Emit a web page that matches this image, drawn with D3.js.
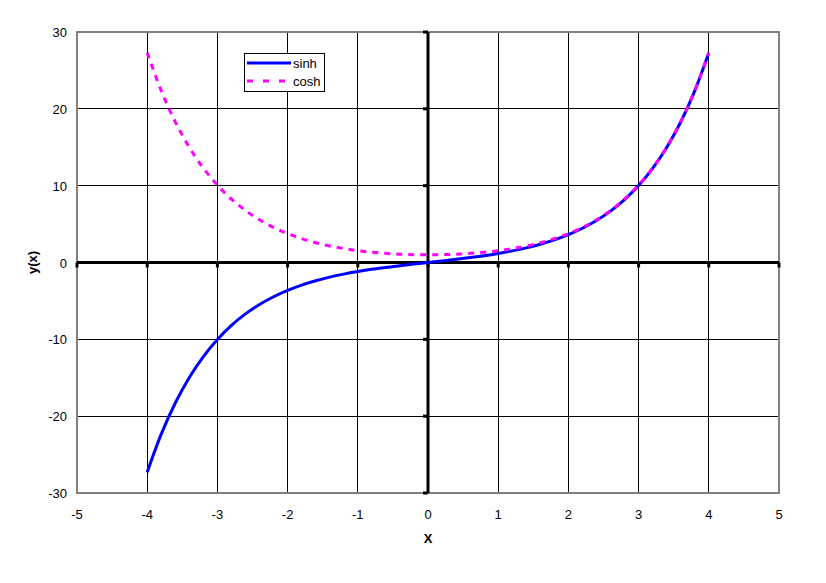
<!DOCTYPE html>
<html lang="en">
<head>
    <meta charset="UTF-8">
    <title>sinh / cosh</title>
    <script src="https://d3js.org/d3.v7.min.js"></script>
</head>
<style type="text/css">
    body { margin: 0; background: white; }
    text { font-family: "Liberation Sans", Arial, sans-serif; fill: black; }
</style>
<body>
<div id="chart"></div>

<script>
    // values (x step 0.2)
    var xs = [-4, -3.8, -3.6, -3.4, -3.2, -3, -2.8, -2.6, -2.4, -2.2, -2, -1.8, -1.6, -1.4, -1.2, -1, -0.8, -0.6, -0.4, -0.2,
        0, 0.2, 0.4, 0.6, 0.8, 1, 1.2, 1.4, 1.6, 1.8, 2, 2.2, 2.4, 2.6, 2.8, 3, 3.2, 3.4, 3.6, 3.8, 4];
    var sinhVals = [-27.29, -22.34, -18.29, -14.97, -12.25, -10.02, -8.19, -6.69, -5.47, -4.46, -3.63, -2.94, -2.38, -1.90, -1.51, -1.18, -0.89, -0.64, -0.41, -0.20,
        0, 0.20, 0.41, 0.64, 0.89, 1.18, 1.51, 1.90, 2.38, 2.94, 3.63, 4.46, 5.47, 6.69, 8.19, 10.02, 12.25, 14.97, 18.29, 22.34, 27.29];
    var coshVals = [27.31, 22.36, 18.31, 15.00, 12.29, 10.07, 8.25, 6.77, 5.56, 4.57, 3.76, 3.11, 2.58, 2.15, 1.81, 1.54, 1.34, 1.19, 1.08, 1.02,
        1.00, 1.02, 1.08, 1.19, 1.34, 1.54, 1.81, 2.15, 2.58, 3.11, 3.76, 4.57, 5.56, 6.77, 8.25, 10.07, 12.29, 15.00, 18.31, 22.36, 27.31];
    var xTicks = [-5, -4, -3, -2, -1, 0, 1, 2, 3, 4, 5];
    var yTicks = [-30, -20, -10, 0, 10, 20, 30];
    var seriesNames = ["sinh", "cosh"];

    var width = 826, height = 583;
    var pLeft = 77, pTop = 32, pRight = 779, pBottom = 493;

    var svg = d3.select("#chart").append("svg")
        .attr("width", width).attr("height", height);

    var x = d3.scaleLinear().domain([-5, 5]).range([pLeft, pRight]);
    var y = d3.scaleLinear().domain([-30, 30]).range([pBottom, pTop]);

    // grid
    svg.selectAll(".vgrid").data(xTicks).enter().append("line")
        .attr("x1", function (d) { return x(d); }).attr("x2", function (d) { return x(d); })
        .attr("y1", pTop).attr("y2", pBottom)
        .style("stroke", "black").style("stroke-width", 1).attr("shape-rendering", "crispEdges");
    svg.selectAll(".hgrid").data(yTicks).enter().append("line")
        .attr("x1", pLeft).attr("x2", pRight)
        .attr("y1", function (d) { return y(d); }).attr("y2", function (d) { return y(d); })
        .style("stroke", "black").style("stroke-width", 1).attr("shape-rendering", "crispEdges");

    // frame
    svg.append("rect")
        .attr("x", pLeft).attr("y", pTop).attr("width", pRight - pLeft).attr("height", pBottom - pTop)
        .style("fill", "none").style("stroke", "#808080").style("stroke-width", 1.5)
        .attr("shape-rendering", "crispEdges");

    // tick labels
    svg.selectAll(".xlab").data(xTicks).enter().append("text")
        .attr("x", function (d) { return x(d); }).attr("y", 519)
        .attr("text-anchor", "middle").style("font-size", "13px")
        .text(function (d) { return d; });
    svg.selectAll(".ylab").data(yTicks).enter().append("text")
        .attr("x", 67).attr("y", function (d) { return y(d) + 5; })
        .attr("text-anchor", "end").style("font-size", "13px")
        .text(function (d) { return d; });

    // zero axes (thick) with ticks
    svg.append("line").attr("x1", pLeft).attr("x2", pRight).attr("y1", y(0)).attr("y2", y(0))
        .style("stroke", "black").style("stroke-width", 3);
    svg.append("line").attr("x1", x(0)).attr("x2", x(0)).attr("y1", pTop).attr("y2", pBottom)
        .style("stroke", "black").style("stroke-width", 3);
    svg.selectAll(".xtick").data(xTicks).enter().append("line")
        .attr("x1", function (d) { return x(d); }).attr("x2", function (d) { return x(d); })
        .attr("y1", y(0)).attr("y2", y(0) + 5)
        .style("stroke", "black").style("stroke-width", 3);
    svg.selectAll(".ytick").data(yTicks).enter().append("line")
        .attr("x1", x(0) - 5).attr("x2", x(0))
        .attr("y1", function (d) { return y(d); }).attr("y2", function (d) { return y(d); })
        .style("stroke", "black").style("stroke-width", 3);

    // curves (cosh drawn over sinh)
    var line = d3.line()
        .x(function (d) { return x(d[0]); })
        .y(function (d) { return y(d[1]); })
        .curve(d3.curveCatmullRom);

    svg.append("path")
        .datum(xs.map(function (v, i) { return [v, sinhVals[i]]; }))
        .attr("d", line)
        .style("fill", "none").style("stroke", "#0000ff").style("stroke-width", 3);
    svg.append("path")
        .datum(xs.map(function (v, i) { return [v, coshVals[i]]; }))
        .attr("d", line)
        .style("fill", "none").style("stroke", "#ff00ff").style("stroke-width", 3)
        .style("stroke-dasharray", "6,6");

    // axis titles
    svg.append("text").attr("x", x(0)).attr("y", 543)
        .attr("text-anchor", "middle").style("font-size", "13px").style("font-weight", "bold")
        .text("X");
    svg.append("text")
        .attr("transform", "translate(37," + y(0) + ") rotate(-90)")
        .attr("text-anchor", "middle").style("font-size", "13px").style("font-weight", "bold")
        .text("y(x)");

    // legend
    var legend = svg.append("g").attr("transform", "translate(244,53)");
    legend.append("rect").attr("x", 0).attr("y", 0).attr("width", 80).attr("height", 38)
        .style("fill", "white").style("stroke", "black").style("stroke-width", 1)
        .attr("shape-rendering", "crispEdges");
    var legColors = ["#0000ff", "#ff00ff"];
    var legDash = ["none", "6,10"];
    seriesNames.forEach(function (name, i) {
        legend.append("line")
            .attr("x1", 3).attr("x2", 47)
            .attr("y1", 10 + i * 18).attr("y2", 10 + i * 18)
            .style("stroke", legColors[i]).style("stroke-width", 3)
            .style("stroke-dasharray", legDash[i]);
        legend.append("text").attr("x", 49).attr("y", 15 + i * 18)
            .style("font-size", "13px").text(name);
    });
</script>
</body>
</html>
